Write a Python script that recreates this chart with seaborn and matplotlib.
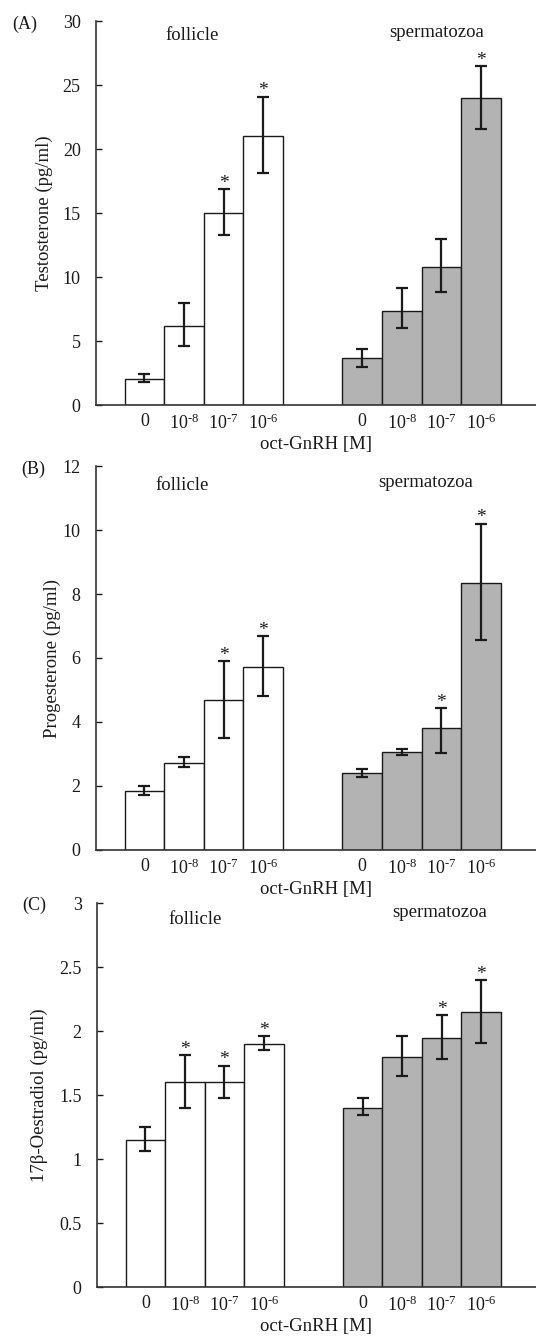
import numpy as np
import pandas as pd
import matplotlib.pyplot as plt
import seaborn as sns
from matplotlib.ticker import FuncFormatter

# dose labels and group names
doses = ['0', '$10^{\\text{-8}}$', '$10^{\\text{-7}}$', '$10^{\\text{-6}}$']
groups = ['follicle', 'spermatozoa']

# (A) testosterone, pg/ml
testo_foll = [2.05, 6.2, 15.0, 21.0]
testo_foll_lo = [1.8, 4.6, 13.25, 18.1]
testo_foll_hi = [2.45, 8.0, 16.85, 24.1]
testo_sperm = [3.65, 7.35, 10.8, 23.95]
testo_sperm_lo = [3.0, 6.0, 8.85, 21.6]
testo_sperm_hi = [4.4, 9.15, 12.95, 26.45]
testo_stars_foll = [2, 3]
testo_stars_sperm = [3]
testo_ticks = [0, 5, 10, 15, 20, 25, 30]

# (B) progesterone, pg/ml
prog_foll = [1.83, 2.73, 4.68, 5.73]
prog_foll_lo = [1.71, 2.58, 3.49, 4.82]
prog_foll_hi = [2.0, 2.9, 5.91, 6.68]
prog_sperm = [2.4, 3.06, 3.8, 8.35]
prog_sperm_lo = [2.27, 2.98, 3.03, 6.56]
prog_sperm_hi = [2.53, 3.15, 4.44, 10.2]
prog_stars_foll = [2, 3]
prog_stars_sperm = [2, 3]
prog_ticks = [0, 2, 4, 6, 8, 10, 12]

# (C) 17b-oestradiol, pg/ml
oest_foll = [1.15, 1.6, 1.6, 1.9]
oest_foll_lo = [1.06, 1.4, 1.48, 1.85]
oest_foll_hi = [1.25, 1.81, 1.73, 1.96]
oest_sperm = [1.4, 1.8, 1.945, 2.15]
oest_sperm_lo = [1.34, 1.65, 1.78, 1.91]
oest_sperm_hi = [1.48, 1.96, 2.125, 2.4]
oest_stars_foll = [1, 2, 3]
oest_stars_sperm = [2, 3]
oest_ticks = [0, 0.5, 1, 1.5, 2, 2.5, 3]

sns.set_style('white')
plt.rcParams['font.family'] = ['Liberation Serif', 'DejaVu Serif']
plt.rcParams['mathtext.fontset'] = 'custom'
plt.rcParams['mathtext.rm'] = 'Liberation Serif'
plt.rcParams['mathtext.it'] = 'Liberation Serif:italic'
plt.rcParams['mathtext.bf'] = 'Liberation Serif:bold'

INK = '#1a1a1a'
GREY = '#b3b3b3'
FS = 13.5


def draw_panel(ax, foll, foll_lo, foll_hi, sperm, sperm_lo, sperm_hi,
               stars_f, stars_s, yticks, ylabel, letter_xy, letter,
               label_x, label_y, ylab_x):
    pos = np.r_[np.arange(4), np.arange(4) + 5.5]
    vals = np.array(foll + sperm)
    lo = np.array(foll_lo + sperm_lo)
    hi = np.array(foll_hi + sperm_hi)
    df = pd.DataFrame({'pos': pos, 'val': vals,
                       'group': [groups[0]] * 4 + [groups[1]] * 4})

    sns.barplot(data=df, x='pos', y='val', hue='group',
                palette=['white', GREY], native_scale=True, width=1,
                dodge=False, saturation=1, edgecolor=INK, linewidth=1.0,
                errorbar=None, legend=False, ax=ax)
    ax.errorbar(pos, vals, yerr=[vals - lo, hi - vals], fmt='none',
                ecolor=INK, elinewidth=1.6, capsize=4, capthick=1.6)

    stars = list(stars_f) + [i + 4 for i in stars_s]
    for i in stars:
        ax.annotate('*', (pos[i], hi[i]), xytext=(0, -2),
                    textcoords='offset points', ha='center', va='bottom',
                    fontsize=14, color=INK)

    ax.set_xlim(-1.225, 9.89)
    ax.set_ylim(yticks[0], yticks[-1])
    ax.set_yticks(yticks)
    ax.yaxis.set_major_formatter(FuncFormatter(lambda v, p: f'{v:g}'))
    ax.set_xticks(pos)
    ax.set_xticklabels(doses * 2)
    ax.tick_params(axis='x', length=0, pad=6, labelsize=13, colors=INK)
    ax.tick_params(axis='y', direction='in', length=4, width=1, pad=11,
                   labelsize=13, colors=INK, left=True)

    for s in ['top', 'right']:
        ax.spines[s].set_visible(False)
    for s in ['left', 'bottom']:
        ax.spines[s].set_color('#333333')
        ax.spines[s].set_linewidth(1.2)

    ax.set_xlabel('oct-GnRH [M]', fontsize=FS, labelpad=2, color=INK)
    ax.set_ylabel(ylabel, fontsize=FS, color=INK)
    ax.yaxis.set_label_coords(ylab_x, 0.5)

    ax.text(label_x[0], label_y[0], groups[0], transform=ax.get_xaxis_transform(),
            ha='center', va='center', fontsize=FS, color=INK)
    ax.text(label_x[1], label_y[1], groups[1], transform=ax.get_xaxis_transform(),
            ha='center', va='center', fontsize=FS, color=INK)
    ax.figure.text(letter_xy[0], letter_xy[1], letter, ha='center',
                   va='center', fontsize=13, color=INK)


W, H = 536, 1336
fig = plt.figure(figsize=(W / 100, H / 100), dpi=100)

ax_a = fig.add_axes([96 / W, 1 - 405 / H, 440 / W, 384 / H])
ax_b = fig.add_axes([96 / W, 1 - 850 / H, 440 / W, 384 / H])
ax_c = fig.add_axes([97 / W, 1 - 1287 / H, 439 / W, 384 / H])

draw_panel(ax_a, testo_foll, testo_foll_lo, testo_foll_hi,
           testo_sperm, testo_sperm_lo, testo_sperm_hi,
           testo_stars_foll, testo_stars_sperm, testo_ticks,
           'Testosterone (pg/ml)', (25 / W, 1 - 24 / H), '(A)',
           (1.2, 7.39), (0.963, 0.97), -0.098)
draw_panel(ax_b, prog_foll, prog_foll_lo, prog_foll_hi,
           prog_sperm, prog_sperm_lo, prog_sperm_hi,
           prog_stars_foll, prog_stars_sperm, prog_ticks,
           'Progesterone (pg/ml)', (33 / W, 1 - 469 / H), '(B)',
           (0.94, 7.1), (0.948, 0.958), -0.08)
draw_panel(ax_c, oest_foll, oest_foll_lo, oest_foll_hi,
           oest_sperm, oest_sperm_lo, oest_sperm_hi,
           oest_stars_foll, oest_stars_sperm, oest_ticks,
           '17β-Oestradiol (pg/ml)', (34 / W, 1 - 905 / H), '(C)',
           (1.27, 7.46), (0.958, 0.974), -0.112)

fig.savefig('out.png', dpi=100)
